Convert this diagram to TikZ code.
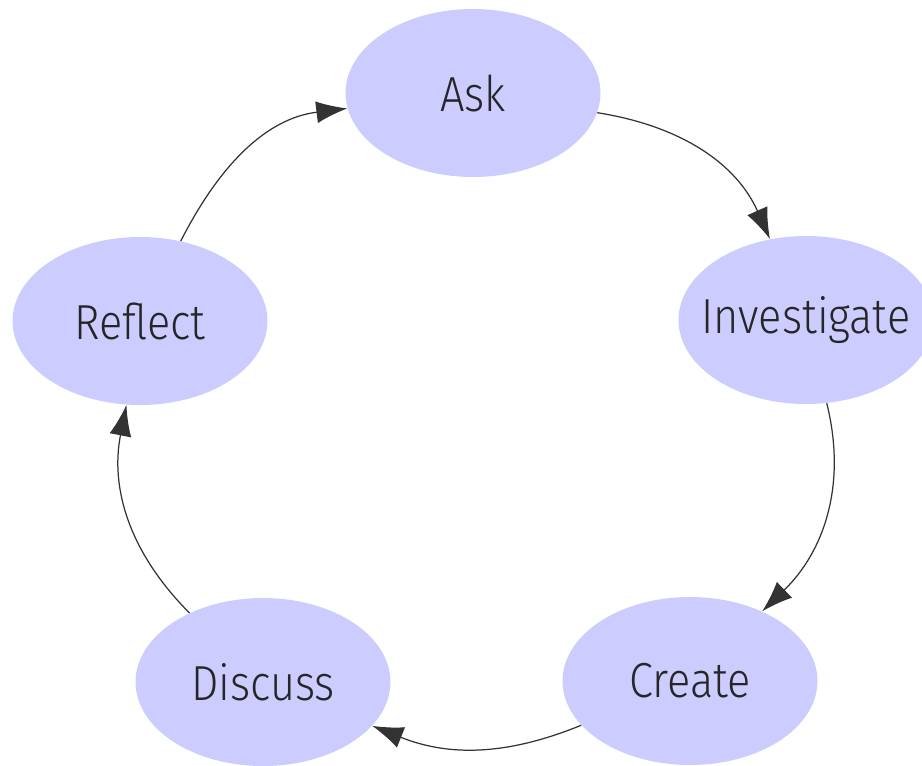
\documentclass[tikz,border=0pt]{standalone}
\usepackage{fontspec}
\newfontfamily\stagefont[FakeStretch=0.88]{Fira Sans Light}
\usetikzlibrary{shapes.geometric,arrows.meta}
\definecolor{stagefill}{HTML}{CCCCFF}

\begin{document}
\begin{tikzpicture}[x=0.02cm, y=-0.02cm,
    stage/.style={ellipse, fill=stagefill, inner xsep=-1.2cm, inner ysep=0pt,
      minimum width=5.1cm, minimum height=3.36cm,
      font=\stagefont\fontsize{28}{32}\selectfont, text=black!85},
    flow/.style={line width=0.7pt, black!80,
      -{Latex[length=0.62cm, width=0.44cm]}}]
    \useasboundingbox (0,0) rectangle (922,765);
    % the five stages of the cycle
    \node[stage] (ask) at (473,93) {Ask};
    \node[stage] (investigate) at (806,320) {Investigate};
    \node[stage] (create) at (690,681) {Create};
    \node[stage] (discuss) at (263,682) {Discuss};
    \node[stage] (reflect) at (140,321) {Reflect};
    % arrows round the circle
    \draw[flow] (ask) to[out=-9, in=114] (investigate);
    \draw[flow] (investigate) to[out=-76, in=44] (create);
    \draw[flow] (create) to[bend left=22] (discuss);
    \draw[flow] (discuss) to[bend left=28] (reflect);
    \draw[flow] (reflect) to[out=63, in=187] (ask);
  \end{tikzpicture}
\end{document}
